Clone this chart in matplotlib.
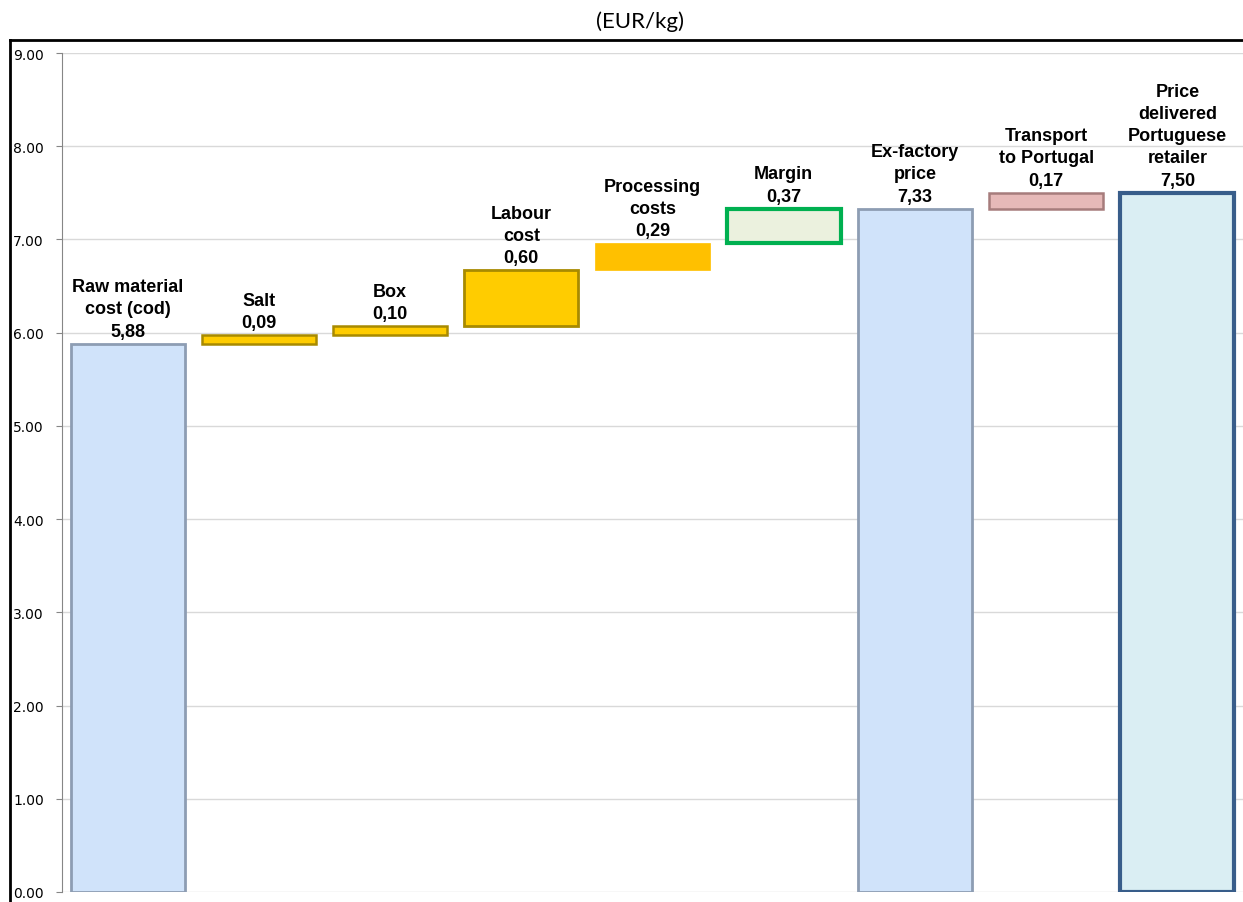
import matplotlib

matplotlib.use("Agg")
import matplotlib.pyplot as plt  # noqa: E402
from matplotlib.lines import Line2D  # noqa: E402

categories = [
    "Raw material\ncost (cod)",
    "Salt",
    "Box",
    "Labour\ncost",
    "Processing\ncosts",
    "Margin",
    "Ex-factory\nprice",
    "Transport\nto Portugal",
    "Price\ndelivered\nPortuguese\nretailer",
]
values = [5.88, 0.09, 0.10, 0.60, 0.29, 0.37, 7.33, 0.17, 7.50]
is_total = [True, False, False, False, False, False, True, False, True]
y_ticks = [0, 1, 2, 3, 4, 5, 6, 7, 8, 9]

face_colors = ["#D0E3FA", "#FFCC00", "#FFCC00", "#FFCC00", "#FFC000",
               "#EBF1DE", "#D0E3FA", "#E6B9B8", "#DAEEF3"]
edge_colors = ["#8D9DB3", "#A88A00", "#A88A00", "#A88A00", "#FFC000",
               "#00B050", "#8D9DB3", "#A67C7C", "#385D8A"]
edge_widths = [2.0, 1.8, 1.8, 2.0, 0.5, 3.0, 2.0, 1.8, 3.0]

# waterfall bottoms
bottoms = []
running = 0.0
for v, tot in zip(values, is_total):
    if tot:
        bottoms.append(0.0)
        running = v
    else:
        bottoms.append(running)
        running += v

W, H = 1243, 903
fig = plt.figure(figsize=(W / 100, H / 100), dpi=100)
ax = fig.add_axes([62 / W, (H - 893) / H, 1 - 62 / W, (893 - 54) / H])

x = list(range(len(values)))
ax.bar(x, values, bottom=bottoms, width=0.87, color=face_colors,
       edgecolor=edge_colors, linewidth=edge_widths, zorder=3)

for xi, v, b, lab in zip(x, values, bottoms, categories):
    ax.annotate(f"{lab}\n{v:.2f}".replace(".", ","), (xi, b + v),
                xytext=(0, 3), textcoords="offset points",
                ha="center", va="bottom", multialignment="center",
                fontsize=13, fontweight="bold", family="Liberation Sans",
                linespacing=1.4, zorder=4)

ax.set_xlim(-0.5, len(values) - 0.5)
ax.set_ylim(0, 9)
ax.set_yticks(y_ticks)
ax.set_yticklabels([f"{t:.2f}" for t in y_ticks], fontsize=10, family="DejaVu Sans")
ax.tick_params(axis="y", length=4, color="#868686", pad=9)
ax.set_xticks([])
ax.grid(True, axis="y", color="#D9D9D9", linewidth=1, zorder=0)
for side in ["top", "right", "bottom"]:
    ax.spines[side].set_visible(False)
ax.spines["left"].set_color("#868686")

fig.text(640 / W, 1 - 22 / H, "(EUR/kg)", ha="center", va="center",
         fontsize=16, family="Lato")

# outer frame
fig.add_artist(Line2D([10 / W, 1], [1 - 41 / H, 1 - 41 / H], color="black", linewidth=2))
fig.add_artist(Line2D([10 / W, 10 / W], [0, 1 - 41 / H], color="black", linewidth=2))

fig.savefig("out.png", dpi=100)
